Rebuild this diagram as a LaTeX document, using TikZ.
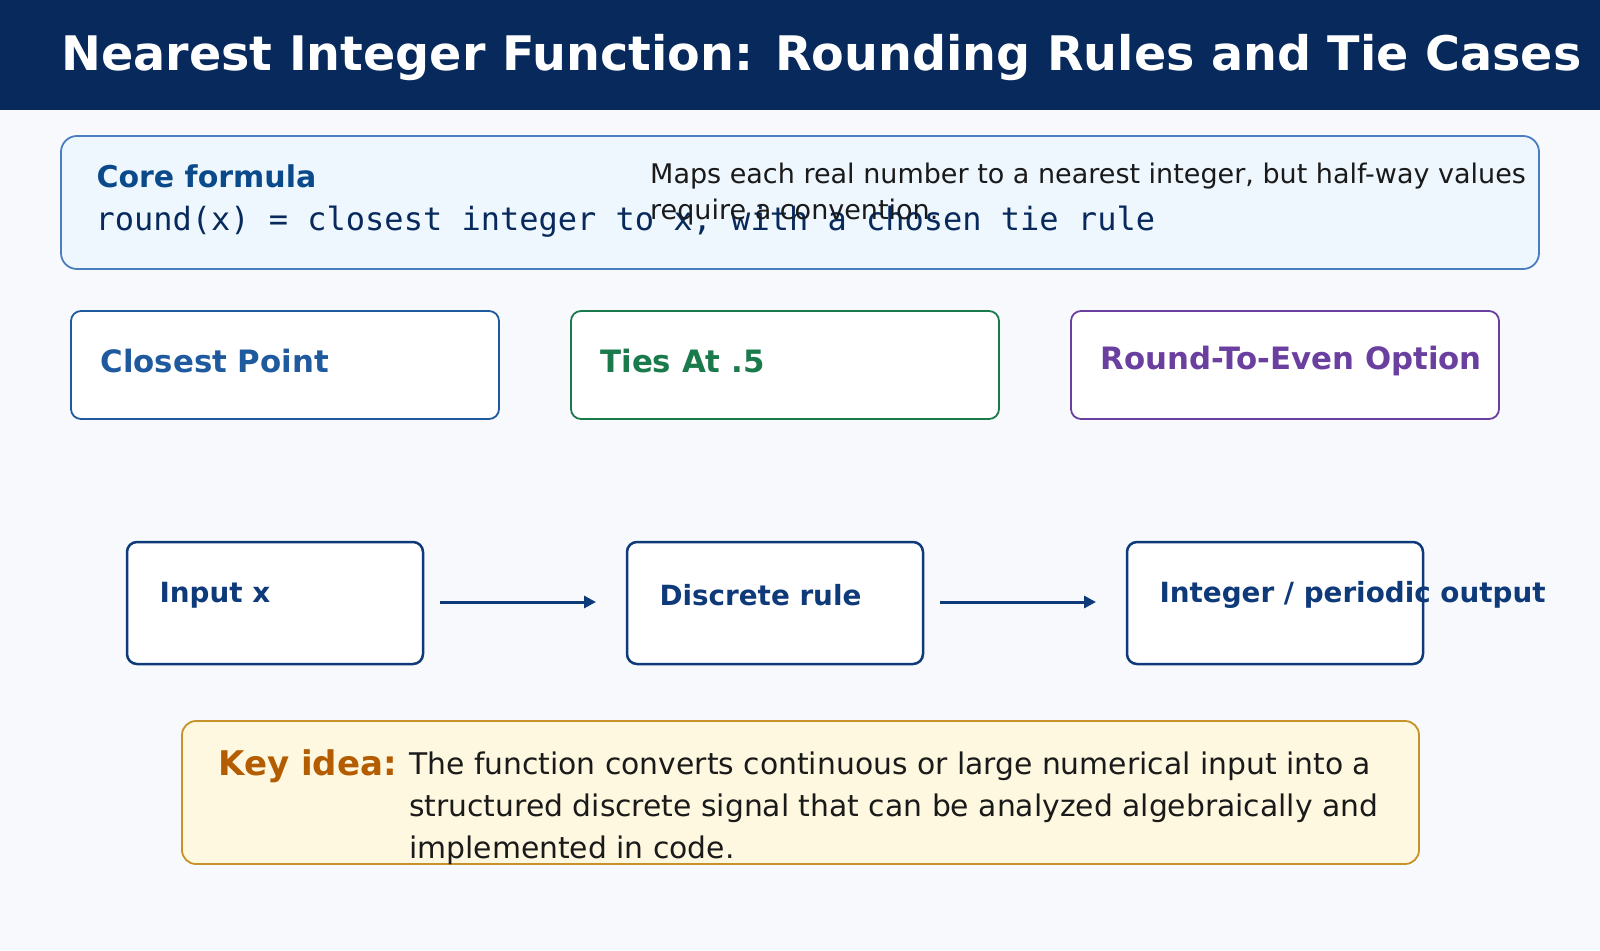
\documentclass[tikz,border=0pt]{standalone}
\usepackage{fontspec}
\setmainfont{DejaVu Sans}
\setmonofont{DejaVu Sans Mono}
\usetikzlibrary{arrows.meta}
\definecolor{bg}{HTML}{F7F9FD}
\definecolor{navy}{HTML}{08295C}
\definecolor{coreb}{HTML}{4A7EBF}
\definecolor{coref}{HTML}{EEF7FE}
\definecolor{coret}{HTML}{0B4A8A}
\definecolor{cblue}{HTML}{1F5A9E}
\definecolor{cgreen}{HTML}{1A7A4C}
\definecolor{cpurp}{HTML}{6B3FA0}
\definecolor{flow}{HTML}{0F3A7A}
\definecolor{keyf}{HTML}{FFF8E1}
\definecolor{keyb}{HTML}{C8922A}
\definecolor{keyt}{HTML}{B35C00}
\definecolor{txt}{HTML}{1A1A1A}
\begin{document}
\begin{tikzpicture}[x=1pt,y=-1pt,
  card/.style={draw=#1,line width=1.8pt,fill=white,rounded corners=10pt},
  ctitle/.style={anchor=west,text=#1,font=\bfseries\fontsize{30.8}{36}\selectfont},
  fbox/.style={draw=flow,line width=2.5pt,fill=white,rounded corners=10pt},
  ftext/.style={anchor=west,text=flow,font=\bfseries\fontsize{27.8}{32}\selectfont},
  arr/.style={draw=flow,line width=3pt,-{Triangle[length=12pt,width=12pt]}}]
\useasboundingbox (0,0) rectangle (1600,950);
\fill[bg] (0,0) rectangle (1600,950);
\fill[navy] (0,0) rectangle (1600,110);
\node[anchor=west,text=white,font=\bfseries\fontsize{47.6}{54}\selectfont] (title) at (58,58) {Nearest Integer Function: Rounding Rules and Tie Cases};
\draw[draw=coreb,fill=coref,line width=1.8pt,rounded corners=16pt] (61,136) rectangle (1539,269);
\node[anchor=west,text=coret,font=\bfseries\fontsize{30}{34}\selectfont] (ct) at (93,176) {Core formula};
\node[anchor=west,text=navy,font=\ttfamily\fontsize{32}{36}\selectfont] (cf) at (92,222) {round(x) = closest integer to x, with a chosen tie rule};
\node[anchor=north west,text=txt,align=left,inner sep=0pt,font=\fontsize{27}{36}\selectfont] (cd) at (650,163) {Maps each real number to a nearest integer, but half-way values\\require a convention.};
\draw[card=cblue] (71,311) rectangle (499,419);
\node[ctitle=cblue] (c1) at (97,361) {Closest Point};
\draw[card=cgreen] (571,311) rectangle (999,419);
\node[ctitle=cgreen] (c2) at (597,361) {Ties At .5};
\draw[card=cpurp] (1071,311) rectangle (1499,419);
\node[ctitle=cpurp] (c3) at (1097,361) {Round-To-Even Option};
\draw[fbox] (127,542) rectangle (423,664);
\node[ftext] (f1) at (156,595) {Input x};
\draw[fbox] (627,542) rectangle (923,664);
\node[ftext] (f2) at (656,595) {Discrete rule};
\draw[fbox] (1127,542) rectangle (1423,664);
\node[ftext] (f3) at (1156,595) {Integer / periodic output};
\coordinate (a1s) at (440,602); \coordinate (a1e) at (596,602);
\coordinate (a2s) at (940,602); \coordinate (a2e) at (1096,602);
\draw[arr] (a1s) -- (a1e);
\draw[arr] (a2s) -- (a2e);
\draw[draw=keyb,fill=keyf,line width=1.8pt,rounded corners=14pt] (182,721) rectangle (1419,864);
\node[anchor=west,text=keyt,font=\bfseries\fontsize{34}{40}\selectfont] (k) at (215,766) {Key idea:};
\node[anchor=north west,text=txt,align=left,inner sep=0pt,font=\fontsize{29.8}{42}\selectfont] (kt) at (409,752) {The function converts continuous or large numerical input into a\\structured discrete signal that can be analyzed algebraically and\\implemented in code.};
\end{tikzpicture}
\end{document}
